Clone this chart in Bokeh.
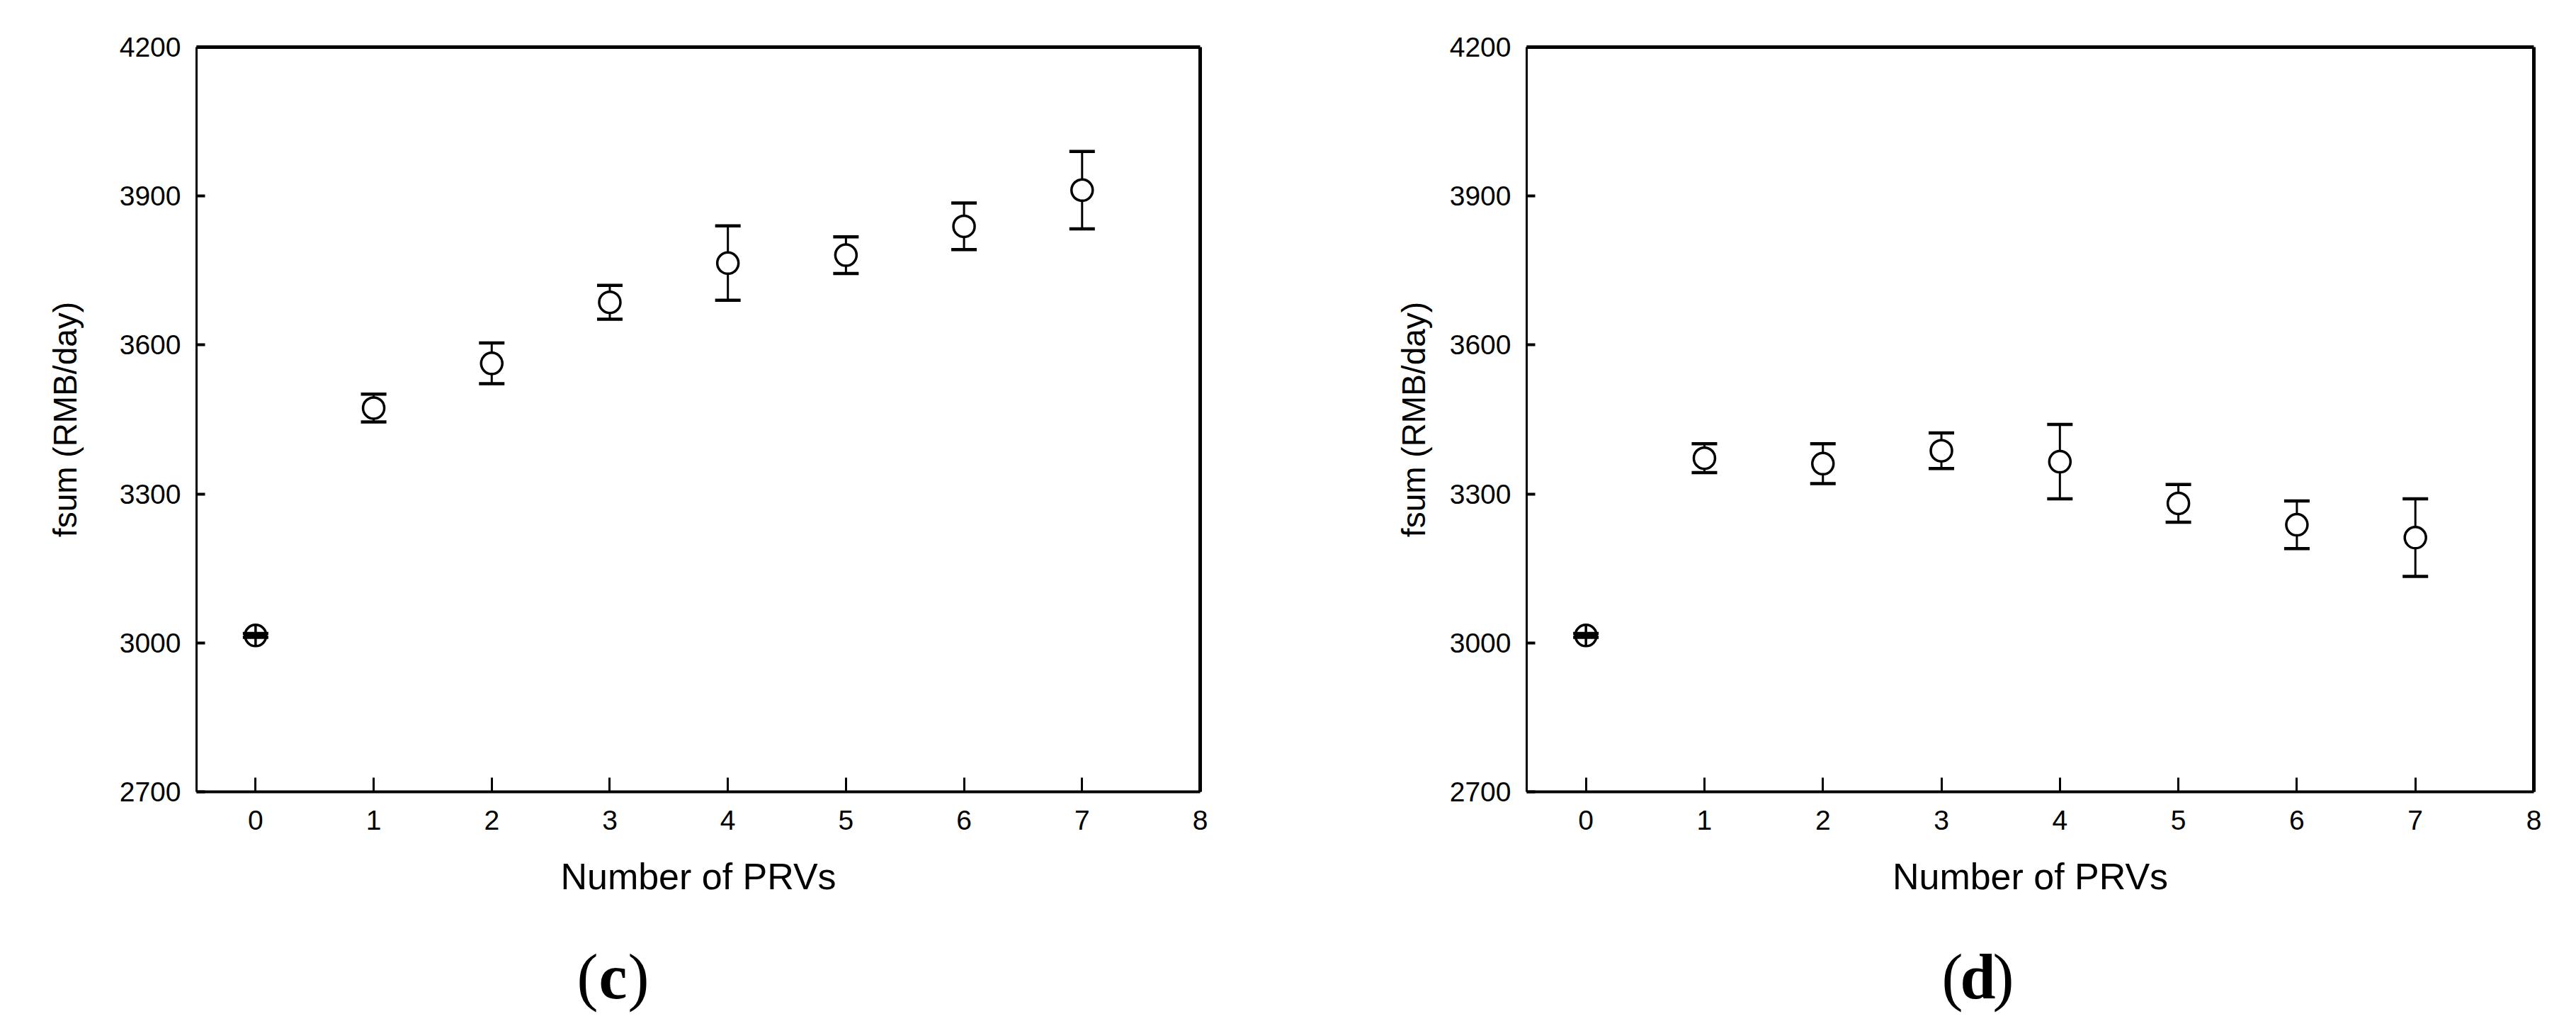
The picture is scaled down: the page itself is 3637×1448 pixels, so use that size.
from bokeh.plotting import figure
from bokeh.models import Range1d, LinearAxis, FixedTicker, ColumnDataSource
from bokeh.layouts import row, column
from bokeh.core.properties import value
from bokeh.embed import file_html
from bokeh.resources import INLINE

# ---- data ----
n_prvs = [0, 1, 2, 3, 4, 5, 6, 7]
fsum_c = [3015, 3473, 3563, 3686, 3765, 3781, 3839, 3912]
err_c = [4, 28, 41, 34, 75, 37, 47, 78]
fsum_d = [3015, 3372, 3361, 3387, 3365, 3281, 3238, 3212]
err_d = [4, 29, 40, 36, 75, 38, 48, 78]
x_ticks = [0, 1, 2, 3, 4, 5, 6, 7, 8]
y_ticks = [2700, 3000, 3300, 3600, 3900, 4200]
x_label = "Number of PRVs"
y_label = "fsum (RMB/day)"
panel_tags = ["c", "d"]

SANS = "Liberation Sans"
SERIF = "Liberation Serif"
MAIN_H = 1300
TAG_H = 132


def make_panel(vals, errs, width, mb_left, mb_right, mb_top, ylab_standoff):
    p = figure(width=width, height=MAIN_H, output_backend="svg", toolbar_location=None,
               x_range=Range1d(-0.5, 8), y_range=Range1d(2700, 4200),
               min_border_left=mb_left, min_border_right=mb_right,
               min_border_top=mb_top, min_border_bottom=MAIN_H - mb_top - 1055,
               background_fill_color="white", border_fill_color="white")
    p.grid.visible = False
    p.outline_line_color = None

    src = ColumnDataSource(dict(
        x=n_prvs, y=vals,
        lo=[v - e for v, e in zip(vals, errs)],
        hi=[v + e for v, e in zip(vals, errs)],
        m=["circle_cross" if i == 0 else "circle" for i in n_prvs],
    ))
    # stems (under the symbols)
    p.segment(x0="x", y0="lo", x1="x", y1="hi", source=src, line_color="black", line_width=3)
    # symbols
    p.scatter(x="x", y="y", marker="m", source=src, size=30, fill_color="white",
              line_color="black", line_width=3.5)
    # caps
    p.scatter(x="x", y="hi", marker="dash", source=src, size=36, line_color="black", line_width=4.5)
    p.scatter(x="x", y="lo", marker="dash", source=src, size=36, line_color="black", line_width=4.5)

    xa = p.xaxis[0]
    xa.ticker = FixedTicker(ticks=x_ticks)
    xa.major_tick_in = 20
    xa.major_tick_out = 0
    xa.minor_tick_line_color = None
    xa.axis_line_width = 4
    xa.major_tick_line_width = 3
    xa.major_label_text_font = SANS
    xa.major_label_text_font_size = "39px"
    xa.major_label_text_color = "black"
    xa.major_label_standoff = 26
    xa.axis_label = x_label
    xa.axis_label_text_font = SANS
    xa.axis_label_text_font_style = "normal"
    xa.axis_label_text_font_size = "52px"
    xa.axis_label_text_color = "black"
    xa.axis_label_standoff = 34

    ya = p.yaxis[0]
    ya.ticker = FixedTicker(ticks=y_ticks)
    ya.major_tick_in = 12
    ya.major_tick_out = 0
    ya.minor_tick_line_color = None
    ya.axis_line_width = 3
    ya.major_tick_line_width = 4
    ya.major_label_text_font = SANS
    ya.major_label_text_font_size = "39px"
    ya.major_label_text_color = "black"
    ya.major_label_standoff = 22
    ya.axis_label = y_label
    ya.axis_label_text_font = SANS
    ya.axis_label_text_font_style = "normal"
    ya.axis_label_text_font_size = "46px"
    ya.axis_label_text_color = "black"
    ya.axis_label_standoff = ylab_standoff

    for side in ("above", "right"):
        ax = LinearAxis(ticker=FixedTicker(ticks=[]), axis_line_width=5,
                        major_tick_line_color=None, minor_tick_line_color=None,
                        major_label_text_font_size="0px")
        p.add_layout(ax, side)
    return p


p1 = make_panel(fsum_c, err_c, 1810, 277, 116, 62, 48)
p2 = make_panel(fsum_d, err_d, 1811, 345, 44, 66, 22)

# panel tags "(c)" and "(d)" below the panels
TOTAL_W = 1810 + 1811
tag = figure(width=TOTAL_W, height=TAG_H, output_backend="svg", toolbar_location=None,
             x_range=Range1d(0, TOTAL_W), y_range=Range1d(0, TAG_H),
             x_axis_type=None, y_axis_type=None,
             min_border_left=0, min_border_right=0, min_border_top=0, min_border_bottom=0,
             background_fill_color="white", border_fill_color="white")
tag.grid.visible = False
tag.outline_line_color = None
tag_x = [865, 2792]
tag_y = [54, 54]
size = "90px"
tag.text(x=tag_x, y=tag_y, text=panel_tags, text_font=value(SERIF), text_font_size=size,
         text_font_style="bold", text_align="center", text_baseline="alphabetic", text_color="black")
tag.text(x=tag_x, y=tag_y, text=["(", "("], text_font=value(SERIF), text_font_size=size,
         text_align="right", text_baseline="alphabetic", x_offset=-21, text_color="black")
tag.text(x=tag_x, y=tag_y, text=[")", ")"], text_font=value(SERIF), text_font_size=size,
         text_align="left", text_baseline="alphabetic", x_offset=21, text_color="black")

layout = column(row(p1, p2, spacing=0), tag, spacing=0)
open("out.html", "w").write(file_html(layout, INLINE))
